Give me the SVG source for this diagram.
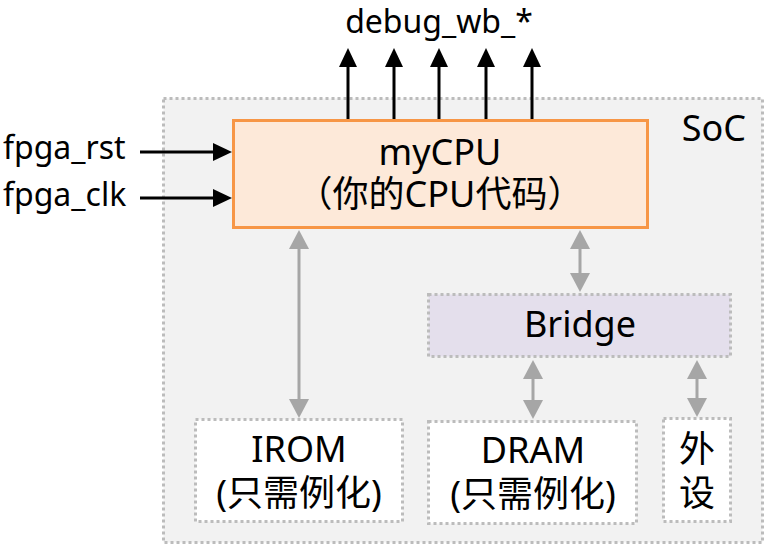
<svg xmlns="http://www.w3.org/2000/svg" width="772" height="551" viewBox="0 0 772 551">
  <style>
    text { font-family: "Noto Sans", "Noto Sans CJK SC", sans-serif; fill: #000; }
    .dash { stroke: #bcbcbc; stroke-width: 3; stroke-dasharray: 3 3; }
    .blk { stroke: #000; stroke-width: 3; fill: none; }
    .gry { stroke: #a6a6a6; stroke-width: 3; fill: none; }
    .lbl { font-size: 32px; }
    .big { font-size: 36px; text-anchor: middle; }
  </style>
  <defs>
    <marker id="ab" viewBox="0 0 19 18" refX="9" refY="9" markerWidth="19" markerHeight="18" markerUnits="userSpaceOnUse" orient="auto">
      <path d="M0,0 L19,9 L0,18 z" fill="#000"/>
    </marker>
    <marker id="ag" viewBox="0 0 19 20" refX="9" refY="10" markerWidth="19" markerHeight="20" markerUnits="userSpaceOnUse" orient="auto-start-reverse">
      <path d="M0,0 L19,10 L0,20 z" fill="#a6a6a6"/>
    </marker>
  </defs>

  <g id="soc">
    <rect x="163.5" y="98.5" width="599" height="444" fill="#f2f2f2" class="dash"/>
    <text x="746" y="141" font-size="36" text-anchor="end">SoC</text>
  </g>

  <g id="mycpu">
    <rect x="233.5" y="120.5" width="414" height="107" fill="#fde9d9" stroke="#f79646" stroke-width="3"/>
    <text class="big"><tspan x="440" y="165">myCPU</tspan><tspan x="440" y="207">（你的CPU代码）</tspan></text>
  </g>

  <g id="bridge">
    <rect x="428.5" y="294.5" width="302" height="62" fill="#e4dfec" class="dash"/>
    <text class="big" x="580" y="337">Bridge</text>
  </g>

  <g id="irom">
    <rect x="195.5" y="419.5" width="207" height="102" fill="#ffffff" class="dash"/>
    <text class="big"><tspan x="299" y="462">IROM</tspan><tspan x="299" y="506">(只需例化)</tspan></text>
  </g>

  <g id="dram">
    <rect x="428.5" y="421.5" width="208" height="102" fill="#ffffff" class="dash"/>
    <text class="big"><tspan x="533" y="463">DRAM</tspan><tspan x="533" y="507">(只需例化)</tspan></text>
  </g>

  <g id="peripheral">
    <rect x="663.5" y="418.5" width="67" height="103" fill="#ffffff" class="dash"/>
    <text class="big"><tspan x="697" y="462">外</tspan><tspan x="697" y="506">设</tspan></text>
  </g>

  <g id="labels">
    <text class="lbl" x="439" y="33" text-anchor="middle">debug_wb_*</text>
    <text class="lbl" x="3" y="159">fpga_rst</text>
    <text class="lbl" x="3" y="206">fpga_clk</text>
  </g>

  <g id="connectors">
    <line class="blk" x1="140" y1="152" x2="222" y2="152" marker-end="url(#ab)"/>
    <line class="blk" x1="140" y1="198" x2="222" y2="198" marker-end="url(#ab)"/>
    <line class="blk" x1="348" y1="119" x2="348" y2="58" marker-end="url(#ab)"/>
    <line class="blk" x1="394" y1="119" x2="394" y2="58" marker-end="url(#ab)"/>
    <line class="blk" x1="439" y1="119" x2="439" y2="58" marker-end="url(#ab)"/>
    <line class="blk" x1="486" y1="119" x2="486" y2="58" marker-end="url(#ab)"/>
    <line class="blk" x1="532" y1="119" x2="532" y2="58" marker-end="url(#ab)"/>

    <line class="gry" x1="299" y1="240" x2="299" y2="408" marker-start="url(#ag)" marker-end="url(#ag)"/>
    <line class="gry" x1="580" y1="240" x2="580" y2="282" marker-start="url(#ag)" marker-end="url(#ag)"/>
    <line class="gry" x1="533" y1="370" x2="533" y2="409" marker-start="url(#ag)" marker-end="url(#ag)"/>
    <line class="gry" x1="697" y1="370" x2="697" y2="407" marker-start="url(#ag)" marker-end="url(#ag)"/>
  </g>
</svg>
